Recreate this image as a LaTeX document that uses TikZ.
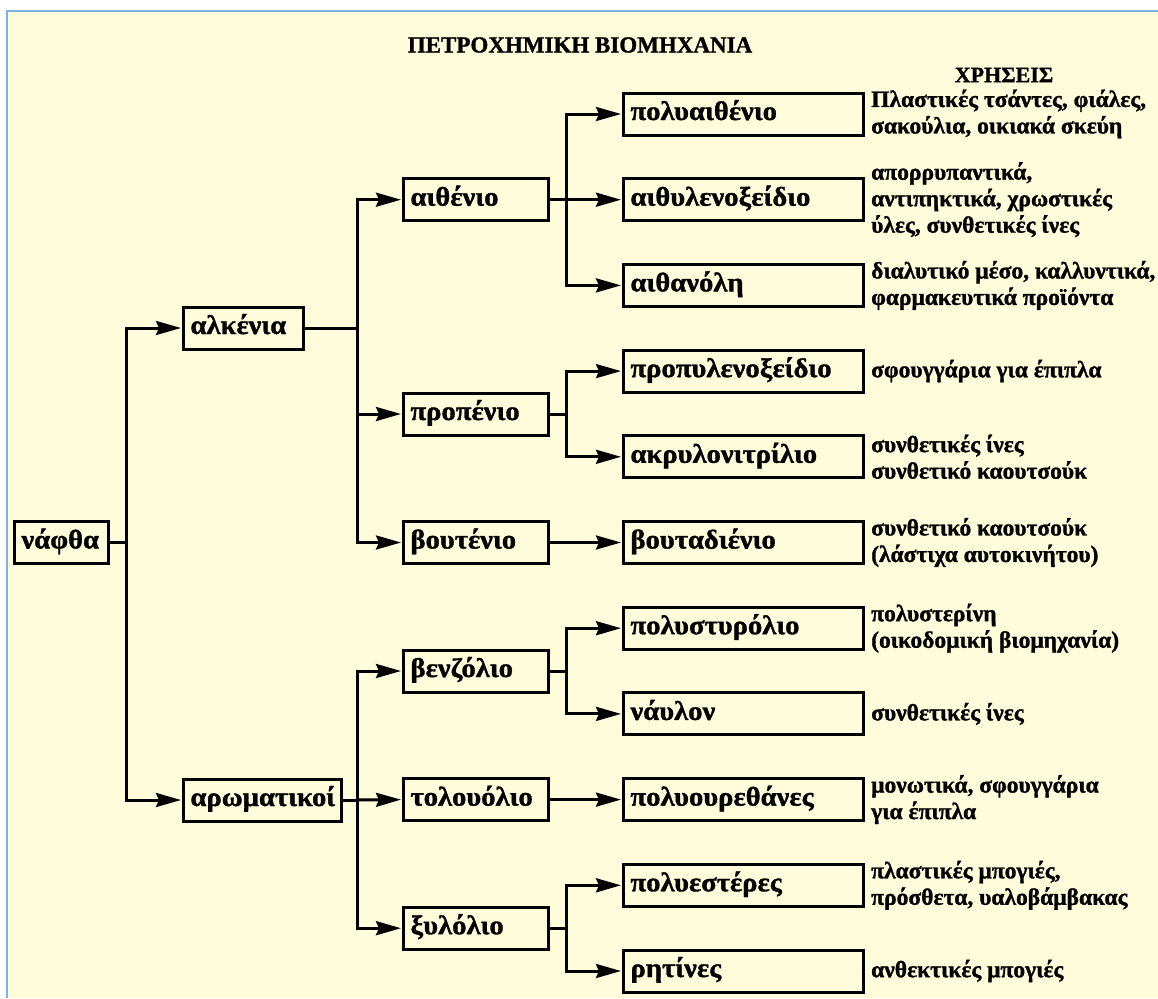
\documentclass[tikz,border=0pt]{standalone}
\usepackage{fontspec}
\setmainfont{Liberation Serif}[BoldFeatures={FakeBold=1.2}]
\newfontfamily\boxfont{Liberation Serif}[BoldFeatures={FakeBold=1.2, FakeStretch=1.06}]
\usetikzlibrary{arrows.meta}
\definecolor{paper}{HTML}{FFFCDC}
\definecolor{frameblue}{HTML}{7FB0E3}
\begin{document}
\begin{tikzpicture}[x=1pt,y=-1pt,
  lbl/.style={font=\boxfont\fontsize{27}{30}\bfseries\selectfont},
  box/.style={lbl, draw, line width=3pt, anchor=west, minimum height=42pt,
    inner xsep=7pt, inner ysep=2pt, text height=18pt, text depth=6pt, align=left},
  leftbox/.style={box},
  midbox/.style={box, text width=131pt},
  prodbox/.style={box, text width=226pt},
  usetext/.style={anchor=west, align=left, inner sep=0pt,
    font=\fontsize{23.5}{26.5}\bfseries\selectfont},
  head/.style={font=\fontsize{23}{26}\bfseries\selectfont},
  link/.style={line width=3pt},
  arr/.style={link, -{Stealth[length=25pt, width=14pt, inset=3pt]}, shorten >=1pt}
]
% page and frame
\useasboundingbox (0,0) rectangle (1158,998);
\fill[white] (0,0) rectangle (1158,998);
\fill[paper] (7,11) rectangle (1158,998);
\draw[frameblue, line width=2pt] (7,998) -- (7,11) -- (1158,11);

% headings
\node[head] (title) at (580,45) {ΠΕΤΡΟΧΗΜΙΚΗ ΒΙΟΜΗΧΑΝΙΑ};
\node[head, font=\fontsize{22}{26}\bfseries\selectfont] (uses) at (1004,75) {ΧΡΗΣΕΙΣ};

% raw material and main groups
\node[leftbox, text width=80pt] (naftha) at (13,542.5) {νάφθα};
\node[leftbox, text width=106pt] (alk) at (182,328) {αλκένια};
\node[leftbox, text width=144pt] (arom) at (182,800) {αρωματικοί};

% intermediates
\node[midbox] (eth)  at (402,199.7) {αιθένιο};
\node[midbox] (prop) at (402,414)   {προπένιο};
\node[midbox] (but)  at (402,542.5) {βουτένιο};
\node[midbox] (benz) at (402,671)   {βενζόλιο};
\node[midbox] (tol)  at (402,799.6) {τολουόλιο};
\node[midbox] (xyl)  at (402,928.2) {ξυλόλιο};

% products
\node[prodbox] (p1)  at (622,114)   {πολυαιθένιο};
\node[prodbox] (p2)  at (622,199.7) {αιθυλενοξείδιο};
\node[prodbox] (p3)  at (622,285.4) {αιθανόλη};
\node[prodbox] (p4)  at (622,371.1) {προπυλενοξείδιο};
\node[prodbox] (p5)  at (622,456.8) {ακρυλονιτρίλιο};
\node[prodbox] (p6)  at (622,542.5) {βουταδιένιο};
\node[prodbox] (p7)  at (622,628.2) {πολυστυρόλιο};
\node[prodbox] (p8)  at (622,713.9) {νάυλον};
\node[prodbox] (p9)  at (622,799.6) {πολυουρεθάνες};
\node[prodbox] (p10) at (622,885.3) {πολυεστέρες};
\node[prodbox] (p11) at (622,971)   {ρητίνες};

% uses
\node[usetext] (u1)  at (871,114)   {Πλαστικές τσάντες, φιάλες,\\σακούλια, οικιακά σκεύη};
\node[usetext] (u2)  at (871,199.7) {απορρυπαντικά,\\αντιπηκτικά, χρωστικές\\ύλες, συνθετικές ίνες};
\node[usetext] (u3)  at (871,285.4) {διαλυτικό μέσο, καλλυντικά,\\φαρμακευτικά προϊόντα};
\node[usetext] (u4)  at (871,371.1) {σφουγγάρια για έπιπλα};
\node[usetext] (u5)  at (871,456.8) {συνθετικές ίνες\\συνθετικό καουτσούκ};
\node[usetext] (u6)  at (871,542.5) {συνθετικό καουτσούκ\\(λάστιχα αυτοκινήτου)};
\node[usetext] (u7)  at (871,628.2) {πολυστερίνη\\(οικοδομική βιομηχανία)};
\node[usetext] (u8)  at (871,713.9) {συνθετικές ίνες};
\node[usetext] (u9)  at (871,799.6) {μονωτικά, σφουγγάρια\\για έπιπλα};
\node[usetext] (u10) at (871,885.3) {πλαστικές μπογιές,\\πρόσθετα, υαλοβάμβακας};
\node[usetext] (u11) at (871,971)   {ανθεκτικές μπογιές};

% branch points
\coordinate (j0) at (126,542.5);
\coordinate (j1) at (357,328);
\coordinate (j2) at (357,800);
\coordinate (k1) at (566,199.7);
\coordinate (k2) at (566,414);
\coordinate (k3) at (566,671);
\coordinate (k4) at (566,928.2);

% naphtha
\draw[link] (naftha.east) -- (j0);
\draw[arr] (j0) |- (alk.west);
\draw[arr] (j0) |- (arom.west);

% alkenes
\draw[link] (alk.east) -- (j1);
\draw[arr] (j1) |- (eth.west);
\draw[arr] (j1) |- (prop.west);
\draw[arr] (j1) |- (but.west);

% aromatics
\draw[link] (arom.east) -- (j2);
\draw[arr] (j2) |- (benz.west);
\draw[arr] (j2) -- (tol.west);
\draw[arr] (j2) |- (xyl.west);

% ethene
\draw[link] (eth.east) -- (k1);
\draw[arr] (k1) |- (p1.west);
\draw[arr] (k1) -- (p2.west);
\draw[arr] (k1) |- (p3.west);

% propene
\draw[link] (prop.east) -- (k2);
\draw[arr] (k2) |- (p4.west);
\draw[arr] (k2) |- (p5.west);

% butene, toluene
\draw[arr] (but.east) -- (p6.west);
\draw[arr] (tol.east) -- (p9.west);

% benzene
\draw[link] (benz.east) -- (k3);
\draw[arr] (k3) |- (p7.west);
\draw[arr] (k3) |- (p8.west);

% xylene
\draw[link] (xyl.east) -- (k4);
\draw[arr] (k4) |- (p10.west);
\draw[arr] (k4) |- (p11.west);
\end{tikzpicture}
\end{document}
